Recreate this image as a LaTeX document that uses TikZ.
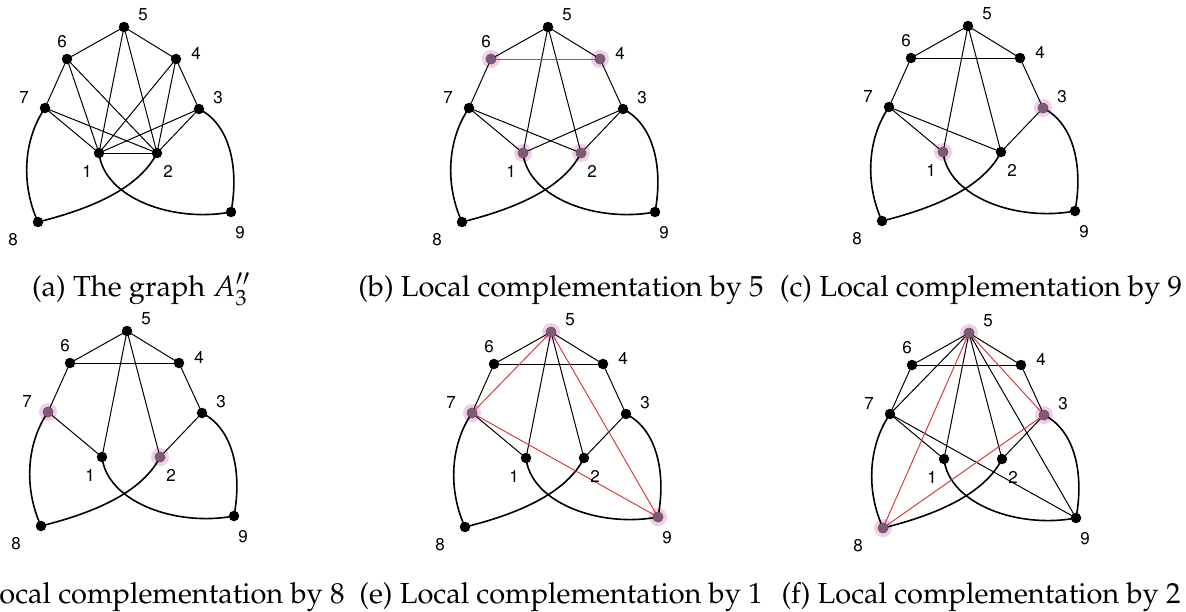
\documentclass[tikz,border=0pt]{standalone}
\usepackage[T1]{fontenc}
\usepackage{mathpazo}
\definecolor{halocol}{RGB}{242,205,232}
\definecolor{hdotcol}{RGB}{122,92,120}
\definecolor{redcol}{RGB}{214,62,62}
\tikzset{
 edge/.style={line width=1pt, black},
 redline/.style={line width=1pt, redcol},
 curve/.style={line width=1.6pt, black},
 dotn/.style={circle, fill=black, inner sep=0pt, minimum size=10.5pt},
 hldot/.style={circle, fill=hdotcol, inner sep=0pt, minimum size=10.5pt},
 haloc/.style={circle, fill=halocol, inner sep=0pt, minimum size=18pt},
 lab/.style={font=\fontfamily{phv}\fontsize{17}{17}\selectfont, inner sep=0pt},
 captext/.style={font=\fontsize{29}{35}\selectfont, inner sep=0pt, anchor=base},
}
\newcommand{\mkpanel}[3]{%
 \begin{scope}[shift={(#2,#3)}]
 \coordinate (#1-1) at (103,153);
 \coordinate (#1-2) at (161,153);
 \coordinate (#1-3) at (203,109);
 \coordinate (#1-4) at (180,59);
 \coordinate (#1-5) at (128,27);
 \coordinate (#1-6) at (71,59);
 \coordinate (#1-7) at (49,108);
 \coordinate (#1-8) at (42,222);
 \coordinate (#1-9) at (235,212);
 \end{scope}}
\newcommand{\halos}[2]{\foreach \h in {#2} {\node[haloc] (#1-h\h) at (#1-\h) {};}}
\newcommand{\blackedges}[2]{\foreach \u/\v in {#2} {\draw[edge] (#1-\u) -- (#1-\v);}}
\newcommand{\rededges}[2]{\foreach \u/\v in {#2} {\draw[redline] (#1-\u) -- (#1-\v);}}
\newcommand{\curves}[1]{%
 \draw[curve] (#1-7) .. controls +(-22,32) and +(-17,-37) .. (#1-8);
 \draw[curve] (#1-3) .. controls +(32,16) and +(8,-42) .. (#1-9);
 \draw[curve] (#1-1) .. controls +(5,45) and +(-58,11) .. (#1-9);
 \draw[curve] (#1-2) .. controls +(-20,40) and +(40,-10) .. (#1-8);}
\newcommand{\alldots}[1]{\foreach \n in {1,...,9} {\node[dotn] (#1-d\n) at (#1-\n) {};}}
\newcommand{\hldots}[2]{\foreach \h in {#2} {\node[hldot] (#1-e\h) at (#1-\h) {};}}
\newcommand{\labels}[1]{%
 \node[lab] (#1-l5) at ([shift={(19,-12)}]#1-5) {5};
 \node[lab] (#1-l6) at ([shift={(-5,-17)}]#1-6) {6};
 \node[lab] (#1-l4) at ([shift={(20,-6)}]#1-4) {4};
 \node[lab] (#1-l7) at ([shift={(-21,-10)}]#1-7) {7};
 \node[lab] (#1-l3) at ([shift={(19,-11)}]#1-3) {3};
 \node[lab] (#1-l1) at ([shift={(-12,18)}]#1-1) {1};
 \node[lab] (#1-l2) at ([shift={(11,18)}]#1-2) {2};
 \node[lab] (#1-l8) at ([shift={(-25,18)}]#1-8) {8};
 \node[lab] (#1-l9) at ([shift={(9,21)}]#1-9) {9};}
\begin{document}
\begin{tikzpicture}[x=1pt,y=-1pt]
\useasboundingbox (0,0) rectangle (1186,611);
\mkpanel{a}{-4}{0}
\mkpanel{b}{420}{0}
\mkpanel{c}{840}{-1}
\mkpanel{d}{-1}{304}
\mkpanel{e}{423}{305}
\mkpanel{f}{841}{306}
% halos
\halos{b}{6,4,1,2}
\halos{c}{3,1}
\halos{d}{7,2}
\halos{e}{5,7,9}
\halos{f}{5,3,8}
% curves
\curves{a}\curves{b}\curves{c}\curves{d}\curves{e}\curves{f}
% edges
\blackedges{a}{5/6,5/4,5/1,5/2,6/7,6/1,6/2,4/3,4/1,4/2,7/1,7/2,3/1,3/2,1/2}
\blackedges{b}{5/6,5/4,5/1,5/2,6/7,4/3,7/1,7/2,3/1,3/2}
\rededges{b}{6/4}
\blackedges{c}{5/6,5/4,5/1,5/2,6/4,6/7,4/3,7/1,7/2,3/2}
\blackedges{d}{5/6,5/4,5/1,5/2,6/4,6/7,4/3,7/1,3/2}
\blackedges{e}{5/6,5/4,5/1,5/2,6/4,6/7,4/3,7/1,3/2}
\rededges{e}{5/7,5/9,7/9}
\blackedges{f}{5/6,5/4,5/1,5/2,6/4,6/7,4/3,7/1,3/2,5/7,5/9,7/9}
\rededges{f}{5/8,5/3,3/8}
% dots
\alldots{a}\alldots{b}\alldots{c}\alldots{d}\alldots{e}\alldots{f}
\hldots{b}{6,4,1,2}
\hldots{c}{3,1}
\hldots{d}{7,2}
\hldots{e}{5,7,9}
\hldots{f}{5,3,8}
% labels
\labels{a}\labels{b}\labels{c}\labels{d}\labels{e}\labels{f}
% captions
\node[captext] (capa) at (141,296) {(a) The graph $A_3''$};
\node[captext] (capb) at (561,296) {(b) Local complementation by 5};
\node[captext] (capc) at (981,296) {(c) Local complementation by 9};
\node[captext] (capd) at (141,603) {(d) Local complementation by 8};
\node[captext] (cape) at (561,603) {(e) Local complementation by 1};
\node[captext] (capf) at (981,603) {(f) Local complementation by 2};
\end{tikzpicture}
\end{document}
